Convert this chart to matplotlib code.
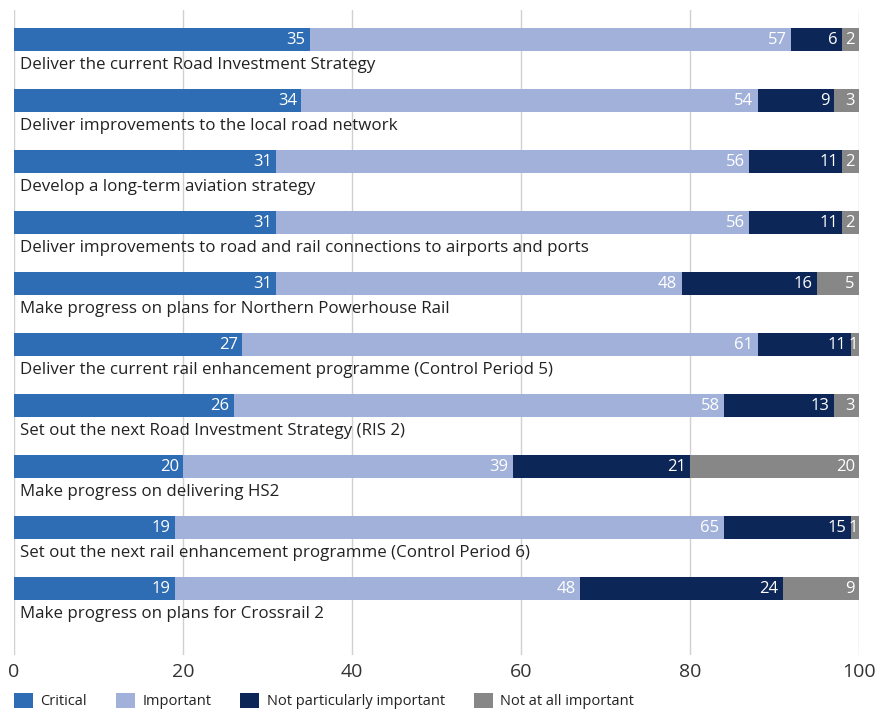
import matplotlib.pyplot as plt
from matplotlib.patches import Patch

plt.rcParams["font.family"] = ["Open Sans", "DejaVu Sans"]

# Survey results: share of respondents (%) per priority
priorities = [
    "Deliver the current Road Investment Strategy",
    "Deliver improvements to the local road network",
    "Develop a long-term aviation strategy",
    "Deliver improvements to road and rail connections to airports and ports",
    "Make progress on plans for Northern Powerhouse Rail",
    "Deliver the current rail enhancement programme (Control Period 5)",
    "Set out the next Road Investment Strategy (RIS 2)",
    "Make progress on delivering HS2",
    "Set out the next rail enhancement programme (Control Period 6)",
    "Make progress on plans for Crossrail 2",
]
critical = [35, 34, 31, 31, 31, 27, 26, 20, 19, 19]
important = [57, 54, 56, 56, 48, 61, 58, 39, 65, 48]
not_particularly = [6, 9, 11, 11, 16, 11, 13, 21, 15, 24]
not_at_all = [2, 3, 2, 2, 5, 1, 3, 20, 1, 9]

series = [
    ("Critical", critical, "#2e6db4"),
    ("Important", important, "#a1b1da"),
    ("Not particularly important", not_particularly, "#0c2657"),
    ("Not at all important", not_at_all, "#878787"),
]

fig = plt.figure(figsize=(8.75, 7.09), dpi=100)
ax = fig.add_axes([14 / 875, 1 - 655 / 709, 845 / 875, 645 / 709])

y = list(range(len(priorities)))
left = [0] * len(priorities)
for name, vals, color in series:
    ax.barh(y, vals, left=left, height=0.377, color=color, zorder=2)
    for i, v in enumerate(vals):
        pad = 0.5 if v > 1 else 0.15
        ax.text(left[i] + v - pad, i, str(v), ha="right", va="center",
                color="white", fontsize=12, zorder=3)
    left = [l + v for l, v in zip(left, vals)]

for i, label in enumerate(priorities):
    ax.text(0.75, i + 0.41, label, ha="left", va="center",
            color="#222222", fontsize=12.2)

ax.set_xlim(0, 100)
ax.set_ylim(10.09, -0.484)
ax.set_xticks([0, 20, 40, 60, 80, 100])
ax.set_yticks([])
ax.grid(axis="x", color="#d0d0d0", linewidth=1, zorder=0)
for s in ax.spines.values():
    s.set_visible(False)
ax.tick_params(axis="x", length=0, labelsize=14, labelcolor="#333333", pad=6)

handles = [Patch(facecolor=c, edgecolor="none", label=n) for n, _, c in series]
fig.legend(handles=handles, loc="center left", bbox_to_anchor=(14 / 875, 1 - 701 / 709),
           ncol=4, frameon=False, fontsize=10.5, handlelength=1.3, handleheight=1.3,
           handletextpad=0.5, columnspacing=2.0, borderpad=0, borderaxespad=0,
           labelcolor="#222222")

fig.savefig("out.png", dpi=100)
